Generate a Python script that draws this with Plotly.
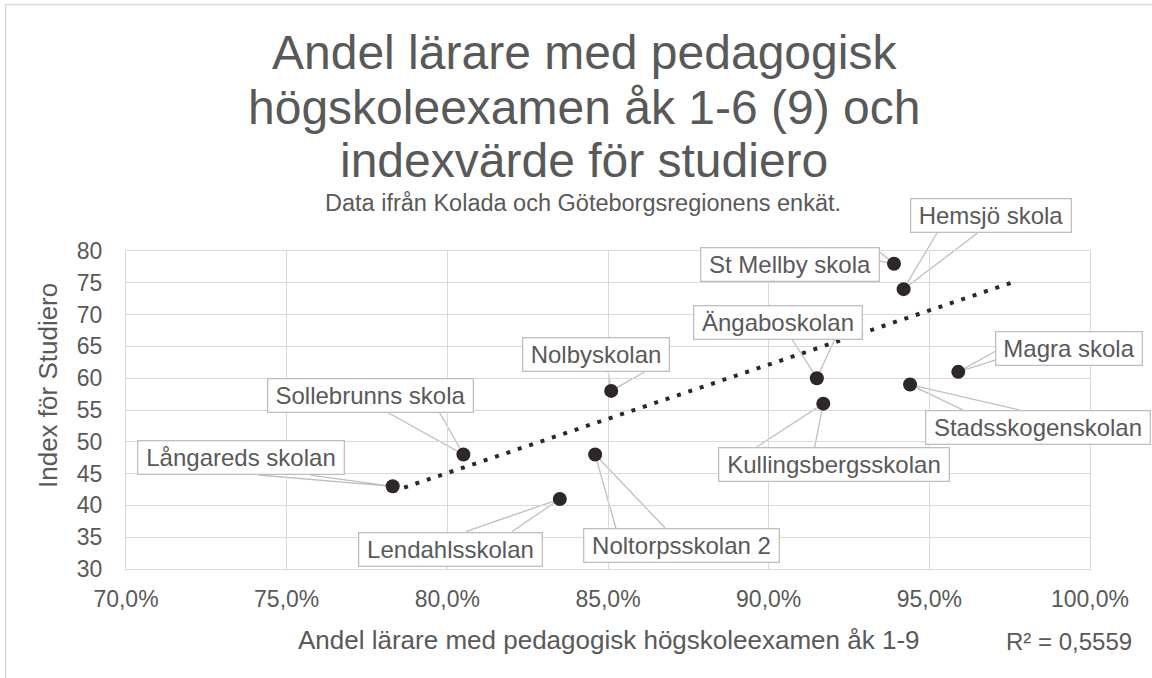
import plotly.graph_objects as go

# data
schools = ["Långareds skolan", "Sollebrunns skola", "Lendahlsskolan", "Noltorpsskolan 2",
           "Nolbyskolan", "St Mellby skola", "Hemsjö skola", "Ängaboskolan",
           "Magra skola", "Stadsskogenskolan", "Kullingsbergsskolan"]
share_teachers = [0.783, 0.805, 0.835, 0.846, 0.851, 0.939, 0.942, 0.915, 0.959, 0.944, 0.917]
studiero_index = [43, 48, 41, 48, 58, 78, 74, 60, 61, 59, 56]

trend_x = [0.783, 0.9755]
trend_y = [42.2, 75.0]
r2_text = "R² = 0,5559"

x_ticks = [0.70, 0.75, 0.80, 0.85, 0.90, 0.95, 1.00]

title_lines = ["Andel lärare med pedagogisk", "högskoleexamen åk 1-6 (9) och", "indexvärde för studiero"]
subtitle = "Data ifrån Kolada och Göteborgsregionens enkät."
x_title = "Andel lärare med pedagogisk högskoleexamen åk 1-9"
y_title = "Index för Studiero"

# layout (pixels)
W, H = 1152, 678
ML, MR, MT, MB = 126, 62, 251, 109
XR = [0.70, 1.00]
YR = [30, 80]
PW, PH = W - ML - MR, H - MT - MB

# label box placement: offset of box centre from point, box width (px)
label_dx = [-151.7, -92.9, -109.3, 86.4, -15.4, -104, 87.4, -38.9, 110.8, 128, 10.7]
label_dy = [-28.8, -59.5, 50, 91, -36.9, 0.3, -73.7, -56.2, -23.3, 42.9, 60.9]
label_w = [208, 207, 185, 197, 148, 180, 162, 170, 148, 226, 232]
label_h = 35

FONT = "Liberation Sans, Arial, sans-serif"
TXT = "#595959"
GRID = "#d9d9d9"
DARK = "#2e2727"
BOX = "#bfbfbf"


def px(x):
    return ML + (x - XR[0]) / (XR[1] - XR[0]) * PW


def py(y):
    return MT + (YR[1] - y) / (YR[1] - YR[0]) * PH


def paper_x(p):
    return (p - ML) / PW


def paper_y(p):
    return (H - MB - p) / PH


def wedge(cx, cy, w, h, tx, ty):
    # base points like Excel's wedgeRectCallout
    ddx, ddy = tx - cx, ty - cy
    l, t = cx - w / 2, cy - h / 2
    dq = ddx * h / w
    if abs(ddy) > abs(dq):
        g1, g2 = (7, 10) if ddx > 0 else (2, 5)
        yb = t + h if ddy > 0 else t
        return (l + w * g1 / 12, yb), (l + w * g2 / 12, yb)
    g1, g2 = (7, 10) if ddy > 0 else (2, 5)
    xb = l + w if ddx > 0 else l
    return (xb, t + h * g1 / 12), (xb, t + h * g2 / 12)


fig = go.Figure()

fig.add_trace(go.Scatter(
    x=trend_x, y=trend_y, mode="lines",
    line=dict(color=DARK, width=4, dash="4px,8px"),
    hoverinfo="skip", showlegend=False))

fig.add_trace(go.Scatter(
    x=share_teachers, y=studiero_index, mode="markers",
    marker=dict(color=DARK, size=14),
    showlegend=False))

shapes = []
annotations = []
bw = 1.3
for name, x, y, ox, oy, w in zip(schools, share_teachers, studiero_index, label_dx, label_dy, label_w):
    tx, ty = px(x), py(y)
    cx, cy = tx + ox, ty + oy
    p1, p2 = wedge(cx, cy, w, label_h, tx, ty)
    # paper refs so the pointer isn't clipped at the plot edge
    path = "M {},{} L {},{} L {},{}".format(paper_x(p1[0]), paper_y(p1[1]),
                                            paper_x(tx), paper_y(ty),
                                            paper_x(p2[0]), paper_y(p2[1]))
    shapes.append(dict(type="path", path=path, xref="paper", yref="paper",
                       line=dict(color=BOX, width=1.3), layer="between"))
    annotations.append(dict(
        x=x, y=y, xref="x", yref="y", text=name, showarrow=False,
        xshift=ox, yshift=-oy, xanchor="center", yanchor="middle",
        width=w - 2 * bw, height=label_h - 2 * bw, borderpad=0,
        bgcolor="white", bordercolor=BOX, borderwidth=bw,
        font=dict(family=FONT, size=24, color=TXT)))

# title lines, subtitle, axis titles, R²
for line, yc in zip(title_lines, [52, 107, 160]):
    annotations.append(dict(x=paper_x(584), y=paper_y(yc), xref="paper", yref="paper",
                            text=line, showarrow=False, xanchor="center", yanchor="middle",
                            font=dict(family=FONT, size=48, color=TXT)))
annotations.append(dict(x=paper_x(583), y=paper_y(203), xref="paper", yref="paper",
                        text=subtitle, showarrow=False, xanchor="center", yanchor="middle",
                        font=dict(family=FONT, size=23.5, color=TXT)))
annotations.append(dict(x=paper_x(609), y=paper_y(640), xref="paper", yref="paper",
                        text=x_title, showarrow=False, xanchor="center", yanchor="middle",
                        font=dict(family=FONT, size=26, color=TXT)))
annotations.append(dict(x=paper_x(48), y=paper_y(386), xref="paper", yref="paper",
                        text=y_title, showarrow=False, textangle=-90,
                        xanchor="center", yanchor="middle",
                        font=dict(family=FONT, size=26, color=TXT)))
annotations.append(dict(x=paper_x(1069), y=paper_y(641), xref="paper", yref="paper",
                        text=r2_text, showarrow=False, xanchor="center", yanchor="middle",
                        font=dict(family=FONT, size=24, color=TXT)))

# chart area border (only top/left visible in frame)
shapes.append(dict(type="rect", xref="paper", yref="paper",
                   x0=paper_x(5.7), x1=paper_x(W + 20), y0=paper_y(H + 20), y1=paper_y(4.5),
                   line=dict(color=GRID, width=1.5), fillcolor="rgba(0,0,0,0)", layer="below"))

fig.update_layout(
    width=W, height=H, autosize=False,
    margin=dict(l=ML, r=MR, t=MT, b=MB),
    paper_bgcolor="white", plot_bgcolor="white",
    separators=", ",
    font=dict(family=FONT, color=TXT),
    shapes=shapes, annotations=annotations,
    showlegend=False,
)
fig.update_xaxes(range=XR, tickvals=x_ticks, tickformat=".1%",
                 showgrid=True, gridcolor=GRID, gridwidth=1.3,
                 showline=True, linecolor=GRID, linewidth=1.3, mirror=True,
                 zeroline=False, ticks="", ticklabelstandoff=9,
                 tickfont=dict(family=FONT, size=23, color=TXT))
fig.update_yaxes(range=YR, dtick=5, tick0=30,
                 showgrid=True, gridcolor=GRID, gridwidth=1.3,
                 showline=True, linecolor=GRID, linewidth=1.3, mirror=True,
                 zeroline=False, ticks="", ticklabelstandoff=18,
                 tickfont=dict(family=FONT, size=23, color=TXT))

# page has a default 8px body margin; drop it so the figure fills the window
fig.write_html("out.html", config={"displayModeBar": False},
               post_script="document.body.style.margin='0';document.body.style.overflow='hidden';")
